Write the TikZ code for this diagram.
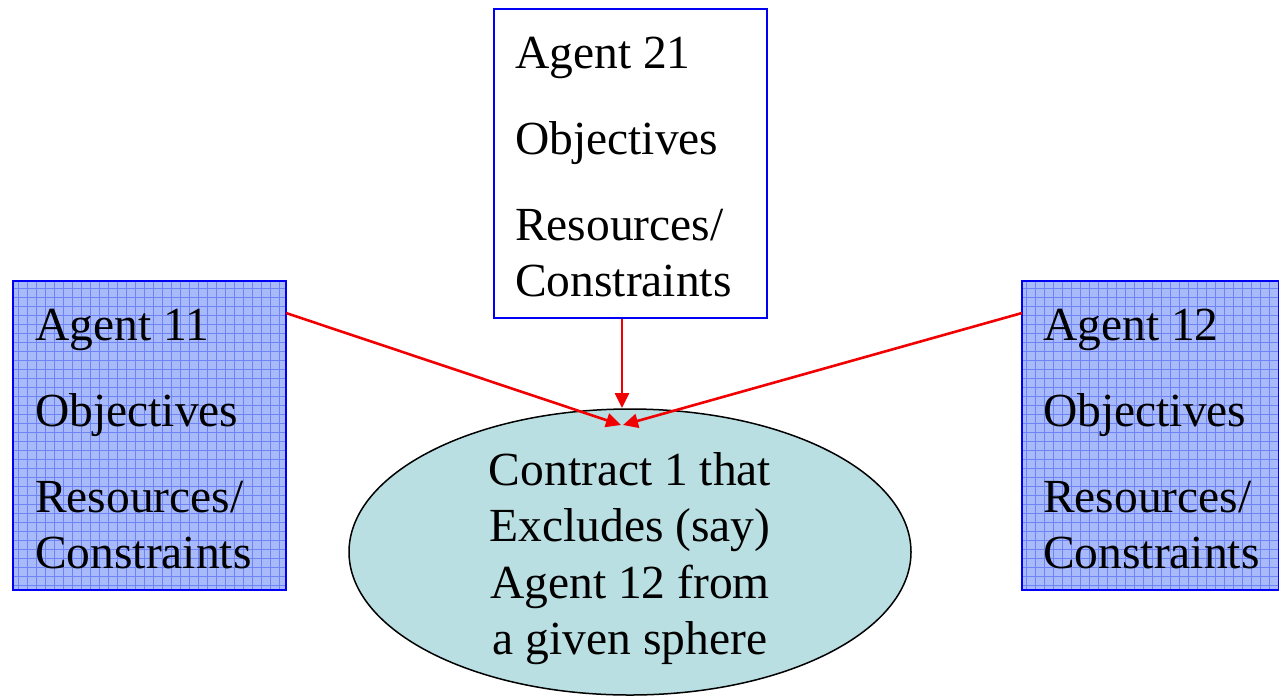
\documentclass[tikz,border=0pt]{standalone}
\usepackage{fontspec}
\setmainfont{Liberation Serif}
\usetikzlibrary{shapes.geometric,arrows.meta}
\definecolor{agentblue}{RGB}{0,0,245}
\definecolor{gridfill}{RGB}{168,186,250}
\definecolor{gridline}{RGB}{110,132,245}
\definecolor{ellfill}{RGB}{186,223,226}
\definecolor{arrred}{RGB}{240,0,0}
\tikzset{
  agentbox/.style={draw=agentblue, line width=2pt, rectangle, inner sep=0pt, minimum width=273pt, minimum height=309pt},
  gridbox/.style={agentbox, fill=gridfill},
  boxtext/.style={anchor=base west, inner sep=0pt, font=\fontsize{47.5}{56.5}\selectfont},
  contract/.style={draw=black, line width=1.5pt, ellipse, fill=ellfill, minimum width=562pt, minimum height=286pt, inner sep=0pt},
  link/.style={draw=arrred, line width=2.6pt, -{Triangle[length=15pt,width=14pt]}},
  gridlines/.style={draw=gridline, line width=0.6pt}
}
\newcommand{\agenttext}[1]{\begin{tabular}[t]{@{}l@{}}Agent #1\\[29.5pt]Objectives\\[29.5pt]Resources/\\Constraints\end{tabular}}
\begin{document}
\begin{tikzpicture}[x=1pt,y=-1pt]
\useasboundingbox (0,0) rectangle (1279,697);
% Agent 21
\node[agentbox, fill=white] (a21) at (630,163.5) {};
\node[boxtext] (t21) at (515,68) {\agenttext{21}};
% Agent 11
\node[gridbox] (a11) at (149.5,435.5) {};
\begin{scope}
\clip (13,281) rectangle (286,590);
\draw[gridlines] (0,279) grid[step=9pt] (300,600);
\end{scope}
\draw[agentblue, line width=2pt] (13,281) rectangle (286,590);
\node[boxtext] (t11) at (35,340) {\agenttext{11}};
% Agent 12
\node[gridbox, minimum width=257pt] (a12) at (1150.5,435.5) {};
\begin{scope}
\clip (1022,281) rectangle (1279,590);
\draw[gridlines] (1008,279) grid[step=9pt] (1290,600);
\end{scope}
\draw[agentblue, line width=2pt] (1022,281) rectangle (1279,590);
\node[boxtext] (t12) at (1043,340) {\agenttext{12}};
% Contract ellipse
\node[contract] (c1) at (630,552) {};
\node[anchor=base, inner sep=0pt, font=\fontsize{47.5}{56.6}\selectfont] (tc) at (630,485)
  {\begin{tabular}[t]{@{}c@{}}Contract 1 that\\Excludes (say)\\Agent 12 from\\a given sphere\end{tabular}};
% connectors
\coordinate (s11) at (286,313);
\coordinate (s12) at (1022,313);
\coordinate (tipL) at (621,425);
\coordinate (tipR) at (623,425);
\coordinate (tipT) at (622,408);
\draw[link] (s11) -- (tipL);
\draw[link] (s12) -- (tipR);
\draw[link] (a21.south -| tipT) -- (tipT);
\end{tikzpicture}
\end{document}
